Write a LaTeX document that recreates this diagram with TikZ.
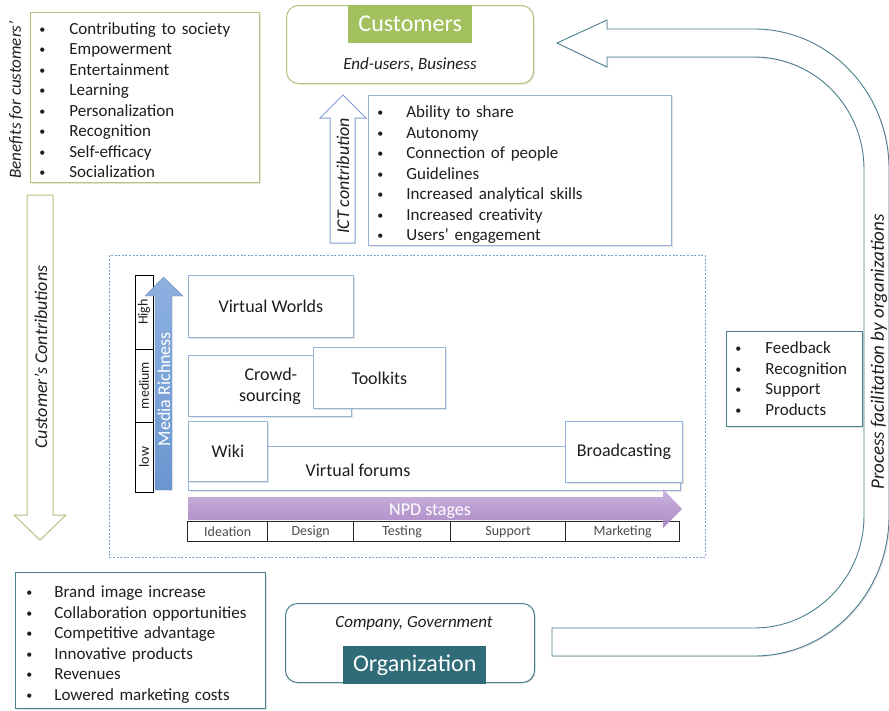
\documentclass[tikz,border=0pt]{standalone}
\usepackage{fontspec}
\setmainfont{Carlito}
\usetikzlibrary{shadows}

\definecolor{grnline}{HTML}{B2C47E}
\definecolor{grnfill}{HTML}{A3C05E}
\definecolor{bluline}{HTML}{95B3D7}
\definecolor{arrblue}{HTML}{7F9FD0}
\definecolor{mrtop}{HTML}{8DB0E0}
\definecolor{mrbot}{HTML}{6A96D0}
\definecolor{npdtop}{HTML}{C7ADDC}
\definecolor{npdbot}{HTML}{A582C2}
\definecolor{tealline}{HTML}{4A7F8E}
\definecolor{tealfill}{HTML}{2F6C78}
\definecolor{dashblue}{HTML}{7DA2D2}
\definecolor{txt}{HTML}{1E1E1E}

\newcommand\lfont{\fontsize{17}{20.5}\selectfont}
\newcommand\bfont{\fontsize{18}{21}\selectfont}
\newcommand\sfont{\fontsize{14}{15}\selectfont}
\newcommand\tfont{\fontsize{24}{26}\selectfont}
% small list bullet followed by the tab to the item text
\newcommand\bul[1]{\makebox[#1][l]{\hspace*{1pt}\raisebox{1pt}{\fontsize{12}{12}\selectfont •}}}
% strut on the first line of a list, to lower the block inside its frame
\newcommand\lowerby[1]{\rule{0pt}{#1}}

\begin{document}
\begin{tikzpicture}[x=1pt,y=-1pt,
  softshadow/.style={drop shadow={shadow xshift=1.2pt,shadow yshift=-1.2pt,opacity=.22}},
  listbox/.style={draw=#1, line width=0.8pt, fill=white, anchor=north west,
    inner xsep=8pt, inner ysep=0pt, align=left, font=\lfont, text=txt, softshadow},
  mbox/.style={draw=bluline, line width=0.8pt, fill=white, anchor=north west,
    font=\bfont, text=txt, align=center, inner sep=0pt, softshadow},
  rotlabel/.style={rotate=90, font=\lfont\itshape, text=txt, inner sep=0pt},
  level/.style={draw=black, line width=1pt, rotate=90, minimum height=18pt,
    font=\sfont, text=txt, inner sep=0pt},
  stagecell/.style={draw=black!85, line width=1.3pt, fill=white, anchor=north west,
    minimum height=20pt, font=\sfont, text=black!70, inner sep=0pt},
  titlebox/.style={anchor=north west, font=\tfont, text=white, inner sep=0pt}
]
\useasboundingbox (0,0) rectangle (889,710);

% ---------- customers ----------
\node[draw=grnline, line width=1pt, rounded corners=12pt, fill=white, softshadow,
  anchor=north west, minimum width=247pt, minimum height=78pt] (cust) at (286,5) {};
\node[titlebox, fill=grnfill, minimum width=124pt, minimum height=38pt] (custtitle) at (348,5) {Customers};
\node[font=\lfont\itshape, text=txt] (custsub) at (410,65) {End-users, Business};

% ---------- benefits for customers ----------
\node[listbox=grnline, text width=213pt, minimum height=170pt] (benefits) at (30,12) {%
  \lowerby{17pt}\bul{31pt}Contributing to society\\
  \bul{31pt}Empowerment\\
  \bul{31pt}Entertainment\\
  \bul{31pt}Learning\\
  \bul{31pt}Personalization\\
  \bul{31pt}Recognition\\
  \bul{31pt}Self-efficacy\\
  \bul{31pt}Socialization};
\node[rotlabel] (benlabel) at (16,100) {Benefits for customers’};

% ---------- customer's contributions (down arrow) ----------
\draw[grnline, line width=1pt, fill=white]
  (27,195) -- (53,195) -- (53,515) -- (66,515) -- (40,540) -- (14,515) -- (27,515) -- cycle;
\node[rotlabel, font=\fontsize{18}{20}\selectfont\itshape] (contrlabel) at (41,357) {Customer’s Contributions};

% ---------- ICT contribution ----------
\draw[arrblue, line width=1pt, fill=white]
  (330,243) -- (330,118) -- (320,118) -- (343,95) -- (366,118) -- (355,118) -- (355,243) -- cycle;
\node[rotlabel, font=\fontsize{18}{20}\selectfont\itshape] (ictlabel) at (343,176) {ICT contribution};
\node[listbox=bluline, text width=287pt, minimum height=150pt] (ictlist) at (368,95) {%
  \lowerby{21pt}\bul{30pt}Ability to share\\
  \bul{30pt}Autonomy\\
  \bul{30pt}Connection of people\\
  \bul{30pt}Guidelines\\
  \bul{30pt}Increased analytical skills\\
  \bul{30pt}Increased creativity\\
  \bul{30pt}Users’ engagement};

% ---------- facilitation loop ----------
\draw[tealline, line width=0.9pt, fill=white, softshadow]
  (552,628) -- (754,628)
  arc[start angle=90, end angle=0, x radius=110, y radius=112] -- (864,169)
  arc[start angle=0, end angle=-90, x radius=110, y radius=112] -- (607,57)
  -- (607,67) -- (557,43) -- (607,20) -- (607,29) -- (754,29)
  arc[start angle=-90, end angle=0, x radius=135, y radius=140] -- (889,516)
  arc[start angle=0, end angle=90, x radius=135, y radius=140] -- (552,656) -- cycle;
\node[rotlabel, font=\fontsize{19}{21}\selectfont\itshape] (facillabel) at (879,352) {Process facilitation by organizations};
\node[listbox=tealline, text width=120pt, minimum height=95pt] (facil) at (726,331) {%
  \bul{31pt}Feedback\\
  \bul{31pt}Recognition\\
  \bul{31pt}Support\\
  \bul{31pt}Products};

% ---------- organization ----------
\node[draw=tealline, line width=1pt, rounded corners=12pt, fill=white, softshadow,
  anchor=north west, minimum width=249pt, minimum height=79pt] (org) at (285,603) {};
\node[font=\lfont\itshape, text=txt] (orgsub) at (414,623) {Company, Government};
\node[titlebox, fill=tealfill, minimum width=143pt, minimum height=38pt] (orgtitle) at (343,646) {Organization};
\node[listbox=tealline, inner xsep=10pt, text width=230pt, minimum height=136pt] (orgben) at (15,572) {%
  \lowerby{20pt}\bul{29pt}Brand image increase\\
  \bul{29pt}Collaboration opportunities\\
  \bul{29pt}Competitive advantage\\
  \bul{29pt}Innovative products\\
  \bul{29pt}Revenues\\
  \bul{29pt}Lowered marketing costs};

% ---------- media richness / NPD panel ----------
\node[draw=dashblue, dash pattern=on 2pt off 1.6pt, line width=0.8pt, anchor=north west,
  minimum width=596pt, minimum height=302pt] (panel) at (109,255) {};

\node[level, minimum width=74pt] (lvhigh) at (144,312) {High};
\node[level, minimum width=73pt] (lvmed) at (144,385.5) {medium};
\node[level, minimum width=70pt] (lvlow) at (144,457) {low};

\shade[top color=mrtop, bottom color=mrbot, draw=arrblue!80!black, line width=0.3pt]
  (155,490) -- (155,296) -- (145,296) -- (163.5,277) -- (183,296) -- (172,296) -- (172,490) -- cycle;
\node[rotate=90, font=\bfont, text=white, inner sep=0pt] (mrlabel) at (164,389) {Media Richness};

\node[mbox, minimum width=492pt, minimum height=44pt] (forums) at (188,446) {};
\node[font=\bfont, text=txt] (forumstext) at (358,470) {Virtual forums};
\node[mbox, minimum width=79pt, minimum height=60pt] (wiki) at (188,421) {Wiki};
\node[mbox, minimum width=117pt, minimum height=61pt] (broad) at (565,421) {Broadcasting};
\node[mbox, minimum width=163pt, minimum height=61pt] (crowd) at (188,355) {\hspace*{2pt}Crowd-\\sourcing};
\node[mbox, minimum width=132pt, minimum height=61pt] (toolkits) at (313,347) {Toolkits};
\node[mbox, minimum width=165pt, minimum height=62pt] (worlds) at (188,275) {Virtual Worlds};

\node[stagecell, minimum width=80pt] (ideation) at (187,521) {Ideation};
\node[stagecell, minimum width=86pt] (design) at (267,521) {Design};
\node[stagecell, minimum width=97pt] (testing) at (353,521) {Testing};
\node[stagecell, minimum width=115pt] (support) at (450,521) {Support};
\node[stagecell, minimum width=114pt] (marketing) at (565,521) {Marketing};

\shade[top color=npdtop, bottom color=npdbot, opacity=0.93]
  (188,497) -- (663,497) -- (663,489) -- (682,509) -- (663,528) -- (663,520) -- (188,520) -- cycle;
\node[font=\bfont, text=white, inner sep=0pt] (npdlabel) at (430,511) {NPD stages};
\end{tikzpicture}
\end{document}
